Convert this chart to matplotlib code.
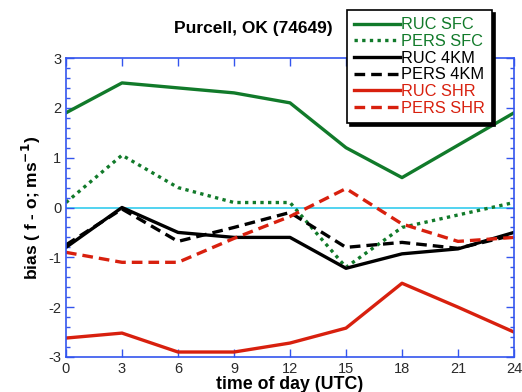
import matplotlib
matplotlib.use("Agg")
import matplotlib.pyplot as plt
from matplotlib.ticker import MultipleLocator

plt.rcParams["font.family"] = ["Liberation Sans", "DejaVu Sans"]
plt.rcParams["axes.unicode_minus"] = False

# -----------------------------------------------------
# Data (bias, m/s) by hour of day
# -----------------------------------------------------
hours = [0, 3, 6, 9, 12, 15, 18, 21, 24]

ruc_sfc = [1.9, 2.5, 2.4, 2.3, 2.1, 1.2, 0.6, 1.25, 1.9]
pers_sfc = [0.1, 1.05, 0.4, 0.1, 0.1, -1.2, -0.4, -0.15, 0.1]
ruc_4km = [-0.8, 0.0, -0.5, -0.6, -0.6, -1.22, -0.93, -0.83, -0.5]
pers_4km = [-0.75, -0.03, -0.68, -0.4, -0.1, -0.8, -0.7, -0.82, -0.55]
ruc_shr = [-2.62, -2.52, -2.9, -2.9, -2.72, -2.42, -1.52, -2.0, -2.5]
pers_shr = [-0.9, -1.1, -1.1, -0.62, -0.18, 0.38, -0.33, -0.68, -0.6]

labels = ["RUC SFC", "PERS SFC", "RUC 4KM", "PERS 4KM", "RUC SHR", "PERS SHR"]

green = "#117a2a"
red = "#d8200e"
black = "black"
blue = "#3355ee"

fig = plt.figure(figsize=(5.22, 3.92), dpi=100)
ax = fig.add_axes([66 / 522, 1 - 357 / 392, 448 / 522, 299 / 392])

lw = 2.4
dots = (0, (1.0, 1.3))
dash = (0, (3.2, 1.8))

ax.axhline(0, color="#33ccee", linewidth=1.2, zorder=1)

ax.plot(hours, ruc_sfc, color=green, linewidth=lw, label=labels[0])
ax.plot(hours, pers_sfc, color=green, linewidth=lw, linestyle=dots, label=labels[1])
ax.plot(hours, ruc_4km, color=black, linewidth=lw, label=labels[2])
ax.plot(hours, pers_4km, color=black, linewidth=lw, linestyle=dash, label=labels[3])
ax.plot(hours, ruc_shr, color=red, linewidth=lw, label=labels[4])
ax.plot(hours, pers_shr, color=red, linewidth=lw, linestyle=dash, label=labels[5])

# -----------------------------------------------------
# Axes formatting
# -----------------------------------------------------
ax.set_xlim(0, 24)
ax.set_ylim(-3, 3)
ax.xaxis.set_major_locator(MultipleLocator(3))
ax.yaxis.set_major_locator(MultipleLocator(1))
ax.yaxis.set_minor_locator(MultipleLocator(0.2))

ax.tick_params(which="both", direction="in", top=True, right=True,
               color=blue, labelcolor="#2a2a2a", labelsize=10.5)
ax.tick_params(which="major", length=6, width=1)
ax.tick_params(which="minor", length=3, width=1)
for s in ax.spines.values():
    s.set_color(blue)
    s.set_linewidth(1.2)

ax.set_xlabel("time of day (UTC)", fontsize=12.8, fontweight="bold", labelpad=0)
ax.set_ylabel("bias ( f - o; ms$^{\\mathbf{-1}}$)", fontsize=12.5,
              fontweight="bold", labelpad=4)

fig.text(253 / 522, 1 - 28 / 392, "Purcell, OK (74649)", ha="center",
         va="center", fontsize=12.5, fontweight="bold")

leg = ax.legend(loc="upper left", bbox_to_anchor=(347 / 522, 1 - 10 / 392),
                bbox_transform=fig.transFigure, borderaxespad=0,
                fancybox=False, framealpha=1, edgecolor="black",
                shadow={"color": "black", "alpha": 1},
                handlelength=2.8, handletextpad=0.05, labelspacing=0.1,
                borderpad=0.45, fontsize=11.8, labelcolor="linecolor")
leg.get_frame().set_linewidth(1.2)
leg.set_zorder(5)

fig.savefig("out.png", dpi=100)
